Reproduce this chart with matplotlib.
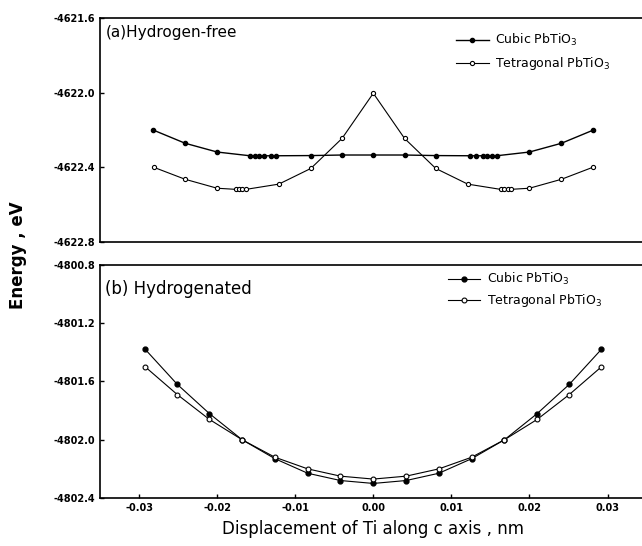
import matplotlib
matplotlib.use('Agg')
import matplotlib.pyplot as plt

plt.rcParams['axes.unicode_minus'] = False
plt.rcParams['font.family'] = 'DejaVu Sans'

# (a) hydrogen-free
xa_cubic = [-0.0282, -0.0241, -0.0200, -0.0158, -0.0152, -0.0146, -0.0140, -0.0131, -0.0124,
            -0.0080, -0.0040, 0.0, 0.0040, 0.0080,
            0.0124, 0.0131, 0.0140, 0.0146, 0.0152, 0.0158, 0.0200, 0.0241, 0.0282]
ya_cubic = [-4622.200, -4622.271, -4622.318, -4622.338, -4622.338, -4622.338, -4622.338, -4622.338, -4622.338,
            -4622.337, -4622.334, -4622.334, -4622.334, -4622.337,
            -4622.338, -4622.338, -4622.338, -4622.338, -4622.338, -4622.338, -4622.318, -4622.271, -4622.200]
xa_tetra = [-0.0281, -0.0241, -0.0200, -0.0176, -0.0172, -0.0168, -0.0163, -0.0121, -0.0080, -0.0040,
            0.0, 0.0040, 0.0080, 0.0121, 0.0163, 0.0168, 0.0172, 0.0176, 0.0200, 0.0241, 0.0281]
ya_tetra = [-4622.400, -4622.464, -4622.512, -4622.518, -4622.518, -4622.518, -4622.518, -4622.490, -4622.406, -4622.245,
            -4622.003, -4622.245, -4622.406, -4622.490, -4622.518, -4622.518, -4622.518, -4622.518, -4622.512, -4622.464, -4622.400]

# (b) hydrogenated
xb = [-0.0292, -0.0251, -0.0210, -0.0168, -0.0126, -0.0084, -0.0042, 0.0,
      0.0042, 0.0084, 0.0126, 0.0168, 0.0210, 0.0251, 0.0292]
yb_cubic = [-4801.38, -4801.62, -4801.82, -4802.00, -4802.13, -4802.23, -4802.28, -4802.30,
            -4802.28, -4802.23, -4802.13, -4802.00, -4801.82, -4801.62, -4801.38]
yb_tetra = [-4801.50, -4801.69, -4801.86, -4802.00, -4802.12, -4802.20, -4802.25, -4802.27,
            -4802.25, -4802.20, -4802.12, -4802.00, -4801.86, -4801.69, -4801.50]

xticks = [-0.03, -0.02, -0.01, 0.00, 0.01, 0.02, 0.03]
yticks_a = [-4621.6, -4622.0, -4622.4, -4622.8]
yticks_b = [-4800.8, -4801.2, -4801.6, -4802.0, -4802.4]

fig = plt.figure(figsize=(6.42, 5.46), dpi=100)
ax1 = fig.add_axes([0.1558, 0.5568, 0.8513, 0.4102])
ax2 = fig.add_axes([0.1558, 0.0879, 0.8513, 0.4268])

lab_c = 'Cubic PbTiO$_3$'
lab_t = 'Tetragonal PbTiO$_3$'

ax1.plot(xa_cubic, ya_cubic, '-', color='black', lw=1.0, marker='o', ms=3,
         mfc='black', mec='black', label=lab_c)
ax1.plot(xa_tetra, ya_tetra, '-', color='black', lw=0.8, marker='o', ms=3,
         mfc='white', mec='black', mew=0.8, label=lab_t)

ax2.plot(xb, yb_cubic, '-', color='black', lw=0.8, marker='o', ms=3.5,
         mfc='black', mec='black', label=lab_c)
ax2.plot(xb, yb_tetra, '-', color='black', lw=0.8, marker='o', ms=3.5,
         mfc='white', mec='black', mew=0.8, label=lab_t)

for ax in (ax1, ax2):
    ax.set_xlim(-0.035, 0.035)
    ax.set_xticks(xticks)
    ax.tick_params(direction='in', length=3, width=1, labelsize=7)
    for s in ax.spines.values():
        s.set_linewidth(1.2)

ax1.set_ylim(-4622.8, -4621.6)
ax1.set_yticks(yticks_a)
ax1.set_yticklabels(['%.1f' % v for v in yticks_a], fontweight='bold')
ax1.tick_params(axis='x', bottom=False, labelbottom=False)

ax2.set_ylim(-4802.4, -4800.8)
ax2.set_yticks(yticks_b)
ax2.set_yticklabels(['%.1f' % v for v in yticks_b], fontweight='bold')
ax2.set_xticklabels(['%.2f' % v for v in xticks], fontweight='bold')

ax1.text(0.01, 0.935, '(a)Hydrogen-free', transform=ax1.transAxes, fontsize=11, va='center')
ax2.text(0.01, 0.895, '(b) Hydrogenated', transform=ax2.transAxes, fontsize=12, va='center')

ax1.legend(loc='upper left', bbox_to_anchor=(0.64, 0.965), frameon=False, fontsize=9,
           handlelength=2.6, handletextpad=0.5, borderpad=0, labelspacing=0.55)
ax2.legend(loc='upper left', bbox_to_anchor=(0.625, 1.0), frameon=False, fontsize=9,
           handlelength=2.6, handletextpad=0.5, borderpad=0, labelspacing=0.4)

fig.text(0.028, 0.533, 'Energy , eV', rotation=90, fontsize=12, fontweight='bold',
         ha='center', va='center')
ax2.set_xlabel('Displacement of Ti along c axis , nm', fontsize=12, labelpad=5)

fig.savefig('out.png', dpi=100)
